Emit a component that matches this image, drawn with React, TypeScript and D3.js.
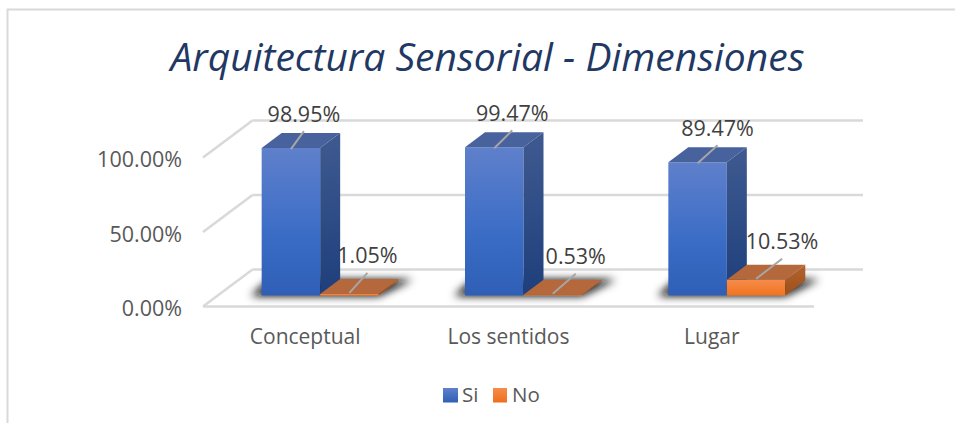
import React from "react";
import * as d3 from "d3";

const categories = ["Conceptual", "Los sentidos", "Lugar"];
const si = [98.95, 99.47, 89.47];
const no = [1.05, 0.53, 10.53];
const siLabels = ["98.95%", "99.47%", "89.47%"];
const noLabels = ["1.05%", "0.53%", "10.53%"];
const yTicks = [0, 50, 100];
const yTickLabels = ["0.00%", "50.00%", "100.00%"];
const title = "Arquitectura Sensorial - Dimensiones";
const siLeaderDx = [13, 18, 20];
const noLeaderDx = [18, 23, 26];

const W = 955, H = 423;
const FONT = "'Open Sans', sans-serif";
const x = d3.scaleBand<string>().domain(categories).range([218.5, 828.5]).paddingInner(0).paddingOuter(0);
const y = d3.scaleLinear().domain([0, 100]).range([295.5, 146.5]);
const barW = 58.5;
const floorY = 306.5;
const wall = { dx: 49.5, dy: -37 };
const depth = { dx: 20, dy: -15 };
const pts = (a: number[][]) => a.map((p) => p.join(",")).join(" ");

function Bar({ x0, v, front, top, side }: any) {
  const yt = y(v), yb = y(0), x1 = x0 + barW;
  return (
    <g>
      <polygon points={pts([[x0, yb], [x1, yb], [x1, yt], [x0, yt]])} fill={`url(#${front})`} />
      <polygon points={pts([[x0, yt], [x1, yt], [x1 + depth.dx, yt + depth.dy], [x0 + depth.dx, yt + depth.dy]])} fill={top} />
      <polygon points={pts([[x1, yb], [x1 + depth.dx, yb + depth.dy], [x1 + depth.dx, yt + depth.dy], [x1, yt]])} fill={`url(#${side})`} />
    </g>
  );
}

export default function App() {
  const cx = (c: string) => (x(c) as number) + x.bandwidth() / 2;
  return (
    <svg width={W} height={H} style={{ position: "absolute", left: 0, top: 0, background: "#fff" }} fontFamily={FONT}>
      <defs>
        <linearGradient id="blueF" x1="0" y1="0" x2="0" y2="1">
          <stop offset="0" stopColor="#5f80cb" /><stop offset="0.6" stopColor="#3a6cc6" /><stop offset="1" stopColor="#2f5fb5" />
        </linearGradient>
        <linearGradient id="blueS" x1="0" y1="0" x2="0" y2="1">
          <stop offset="0" stopColor="#3f5a90" /><stop offset="1" stopColor="#1e3f7c" />
        </linearGradient>
        <linearGradient id="orF" x1="0" y1="0" x2="0" y2="1">
          <stop offset="0" stopColor="#f68c4c" /><stop offset="1" stopColor="#f0741f" />
        </linearGradient>
        <linearGradient id="orS" x1="0" y1="0" x2="0" y2="1">
          <stop offset="0" stopColor="#b2622f" /><stop offset="1" stopColor="#9f5018" />
        </linearGradient>
        <linearGradient id="legB" x1="0" y1="0" x2="0" y2="1">
          <stop offset="0" stopColor="#5f80cb" /><stop offset="1" stopColor="#2f5fb5" />
        </linearGradient>
        <linearGradient id="legO" x1="0" y1="0" x2="0" y2="1">
          <stop offset="0" stopColor="#f68c4c" /><stop offset="1" stopColor="#ee6f1c" />
        </linearGradient>
        <filter id="blur" x="-30%" y="-100%" width="160%" height="300%"><feGaussianBlur stdDeviation="4" /></filter>
      </defs>

      <path d={`M7.5 ${H}V9.5H${W}`} fill="none" stroke="#d9d9d9" strokeWidth={2} />

      <text x={487.5} y={71} textAnchor="middle" fontSize={39} fontStyle="italic" fill="#1f3864">{title}</text>

      {/* walls */}
      <g stroke="#d9d9d9" strokeWidth={2.5} fill="none">
        {yTicks.map((t) => {
          const yw = y(t) + 11;
          return (
            <g key={t}>
              <line x1={203} y1={yw} x2={203 + wall.dx} y2={yw + wall.dy} />
              <line x1={203 + wall.dx} y1={yw + wall.dy} x2={863} y2={yw + wall.dy} />
            </g>
          );
        })}
        <line x1={203} y1={floorY} x2={814} y2={floorY} />
      </g>

      {yTicks.map((t, i) => (
        <text key={t} x={182} y={y(t) + 20.5} textAnchor="end" fontSize={21.5} fill="#595959">{yTickLabels[i]}</text>
      ))}

      {/* shadows */}
      {categories.map((c) => {
        const x0 = cx(c) - barW;
        return (
          <polygon key={c} filter="url(#blur)" fill="#111" points={pts([[x0 - 11, y(0) + 0.5], [x0 + 2 * barW, y(0) + 0.5], [x0 + 2 * barW + 34, y(0) + depth.dy - 1], [x0 + 8, y(0) + depth.dy - 1]])} />
        );
      })}

      {categories.map((c, i) => {
        const mid = cx(c);
        return (
          <g key={c}>
            <Bar x0={mid - barW} v={si[i]} front="blueF" top="#47629c" side="blueS" />
            <Bar x0={mid} v={no[i]} front="orF" top="#b5683b" side="orS" />
          </g>
        );
      })}

      {/* leader lines and labels */}
      {categories.map((c, i) => {
        const mid = cx(c);
        const sx = mid - barW / 2, nx = mid + barW / 2;
        return (
          <g key={c}>
            <line x1={sx} y1={y(si[i]) + 1} x2={sx + siLeaderDx[i]} y2={y(si[i]) - 17} stroke="#a6a6a6" strokeWidth={2} />
            <line x1={nx} y1={y(no[i]) - 1} x2={nx + noLeaderDx[i]} y2={y(no[i]) - 21} stroke="#a6a6a6" strokeWidth={2} />
            <text x={sx + siLeaderDx[i]} y={y(si[i]) - 26} textAnchor="middle" fontSize={21.5} fill="#404040">{siLabels[i]}</text>
            <text x={nx + noLeaderDx[i]} y={y(no[i]) - 31} textAnchor="middle" fontSize={21.5} fill="#404040">{noLabels[i]}</text>
          </g>
        );
      })}

      {categories.map((c) => (
        <text key={c} x={cx(c) - 15} y={344} textAnchor="middle" fontSize={21} fill="#595959">{c}</text>
      ))}

      <rect x={443} y={388} width={15} height={14.5} fill="url(#legB)" />
      <text x={462} y={402} fontSize={20.5} fill="#595959">Si</text>
      <rect x={493} y={388} width={14} height={14.5} fill="url(#legO)" />
      <text x={512} y={402} fontSize={20.5} fill="#595959">No</text>
    </svg>
  );
}
